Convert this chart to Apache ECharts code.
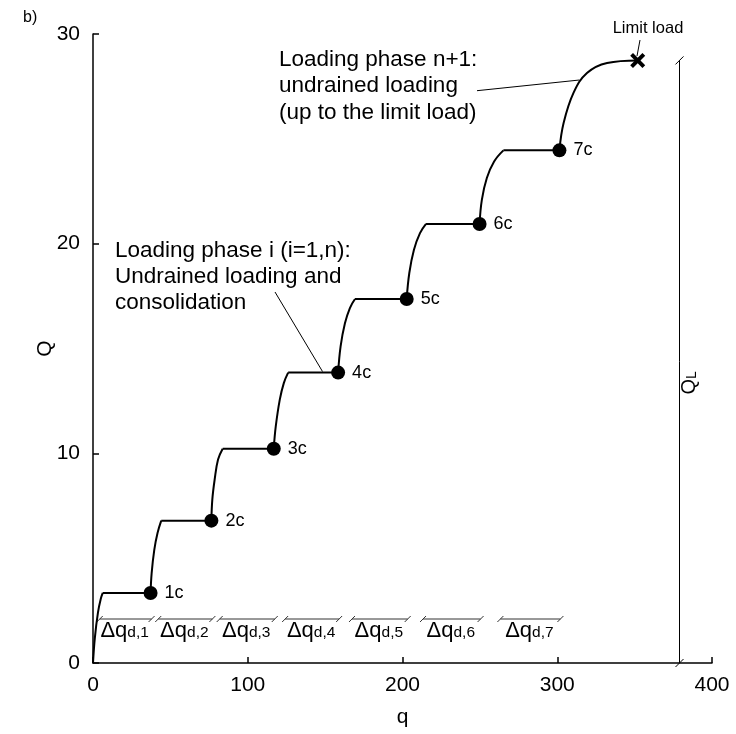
<!DOCTYPE html>
<html>
<head>
<meta charset="utf-8">
<style>
  html, body { margin: 0; padding: 0; background: #fff; }
  #chart { width: 736px; height: 734px; }
</style>
<script src="https://cdn.jsdelivr.net/npm/echarts@6/dist/echarts.min.js"></script>
</head>
<body>
<div id="chart"></div>
<script>
const FONT = 'Liberation Sans, Arial, sans-serif';

// consolidation end points (dots)
const dotLabels = ['1c', '2c', '3c', '4c', '5c', '6c', '7c'];
const dotQ = [37.2, 76.5, 116.8, 158.4, 202.7, 249.8, 301.4];
const dotLoad = [3.34, 6.79, 10.22, 13.85, 17.36, 20.94, 24.45];

// undrained loading curves [q, Q]
const undrained = [
  [[0, 0], [1.2, 1.2], [3.2, 2.4], [5.0, 3.05], [6.3, 3.34]],
  [[37.2, 3.34], [37.9, 4.29], [39.6, 5.4], [41.7, 6.2], [44.1, 6.79]],
  [[76.5, 6.79], [77.1, 7.79], [78.6, 8.74], [80.8, 9.7], [83.8, 10.22]],
  [[116.8, 10.22], [118.1, 11.28], [120.7, 12.56], [123.3, 13.35], [126.1, 13.85]],
  [[158.4, 13.85], [160.0, 15.1], [162.8, 16.2], [166.0, 16.93], [169.3, 17.36]],
  [[202.7, 17.36], [204.4, 18.6], [207.4, 19.71], [211.3, 20.5], [215.2, 20.94]],
  [[249.8, 20.94], [251.3, 22.1], [254.5, 23.13], [259.2, 23.92], [265.2, 24.45]],
  [[301.4, 24.45], [304.1, 25.75], [310.5, 27.19], [319.2, 28.14], [332.2, 28.62], [352.0, 28.74]]
];

const limitLoad = [352.0, 28.74];
const QL = 28.74;

const xTicks = [0, 100, 200, 300, 400];
const yTicks = [0, 10, 20, 30];

// consolidation plateaus: end of each undrained curve -> dot
const plateaus = dotQ.map((q, i) => {
  const last = undrained[i][undrained[i].length - 1];
  return [[last[0], dotLoad[i]], [q, dotLoad[i]]];
});
const dqSpans = plateaus.map((p, i) => [p[0][0], p[1][0], i + 1]);

const black = '#000';

const curveSeries = undrained.map((pts) => ({
  type: 'line',
  data: pts,
  smooth: 0.4,
  showSymbol: false,
  silent: true,
  lineStyle: { color: black, width: 2 },
  z: 3,
}));

const plateauSeries = plateaus.map((pts) => ({
  type: 'line',
  data: pts,
  showSymbol: false,
  silent: true,
  lineStyle: { color: black, width: 2 },
  z: 3,
}));

const dqSeries = {
  type: 'custom',
  data: dqSpans,
  encode: { x: [0, 1], y: 2 },
  silent: true,
  renderItem: (params, api) => {
    const a = api.coord([api.value(0), 0]);
    const b = api.coord([api.value(1), 0]);
    const y = a[1] - 44;
    const x0 = a[0] - 3;
    const x1 = b[0] + 1;
    const ln = { stroke: '#333', lineWidth: 1 };
    return {
      type: 'group',
      children: [
        { type: 'line', shape: { x1: x0, y1: y, x2: x1, y2: y }, style: ln },
        { type: 'line', shape: { x1: x0 - 3, y1: y + 3, x2: x0 + 3, y2: y - 3 }, style: ln },
        { type: 'line', shape: { x1: x1 - 3, y1: y + 3, x2: x1 + 3, y2: y - 3 }, style: ln },
        {
          type: 'text',
          x: (x0 + x1) / 2 - 1,
          y: y + 1,
          style: {
            text: '{a|Δq}{b|d,' + api.value(2) + '}',
            align: 'center',
            verticalAlign: 'top',
            rich: {
              a: { fontSize: 22, fontFamily: FONT, fill: black, verticalAlign: 'bottom' },
              b: { fontSize: 15.5, fontFamily: FONT, fill: black, verticalAlign: 'bottom', padding: [0, 0, 1, 0] },
            },
          },
        },
      ],
    };
  },
};

const qlSeries = {
  type: 'custom',
  data: [[379, QL]],
  encode: { x: 0, y: 1 },
  silent: true,
  renderItem: (params, api) => {
    const top = api.coord([api.value(0), api.value(1)]);
    const bot = api.coord([api.value(0), 0]);
    const mid = api.coord([api.value(0), api.value(1) * 0.465]);
    const ln = { stroke: black, lineWidth: 1 };
    return {
      type: 'group',
      children: [
        { type: 'line', shape: { x1: top[0], y1: top[1], x2: bot[0], y2: bot[1] }, style: ln },
        { type: 'line', shape: { x1: top[0] - 4, y1: top[1] + 4, x2: top[0] + 4, y2: top[1] - 4 }, style: ln },
        { type: 'line', shape: { x1: bot[0] - 4, y1: bot[1] + 4, x2: bot[0] + 4, y2: bot[1] - 4 }, style: ln },
        {
          type: 'text',
          x: top[0] + 10,
          y: mid[1],
          rotation: Math.PI / 2,
          style: {
            text: '{a|Q}{b|L}',
            align: 'center',
            verticalAlign: 'middle',
            rich: {
              a: { fontSize: 20, fontFamily: FONT, fill: black, verticalAlign: 'bottom' },
              b: { fontSize: 14, fontFamily: FONT, fill: black, verticalAlign: 'bottom' },
            },
          },
        },
      ],
    };
  },
};

const dotSeries = {
  type: 'scatter',
  data: dotQ.map((q, i) => ({ value: [q, dotLoad[i]], name: dotLabels[i] })),
  symbolSize: 14,
  silent: true,
  itemStyle: { color: black, opacity: 1 },
  label: {
    show: true,
    position: 'right',
    distance: 7,
    formatter: (p) => p.name,
    fontSize: 18,
    fontFamily: FONT,
    color: black,
  },
  z: 5,
};

const limitSeries = {
  type: 'scatter',
  data: [limitLoad],
  symbol: 'path://M0,2.6L2.6,0L7,4.4L11.4,0L14,2.6L9.6,7L14,11.4L11.4,14L7,9.6L2.6,14L0,11.4L4.4,7Z',
  symbolSize: 15,
  silent: true,
  itemStyle: { color: black, opacity: 1 },
  z: 5,
};

const axisCommon = {
  axisLine: { lineStyle: { color: black, width: 1.5 } },
  axisTick: { inside: true, length: 6, lineStyle: { color: black, width: 1.5 } },
  axisLabel: { color: black, fontSize: 21, fontFamily: FONT },
  splitLine: { show: false },
  nameLocation: 'middle',
  nameTextStyle: { color: black, fontSize: 21, fontFamily: FONT },
};

const textStyle = { fontSize: 22.5, fontFamily: FONT, fill: black, verticalAlign: 'top' };

const option = {
  animation: false,
  backgroundColor: '#fff',
  grid: { left: 93, right: 24, top: 34, bottom: 71 },
  xAxis: {
    type: 'value',
    min: xTicks[0],
    max: xTicks[xTicks.length - 1],
    interval: 100,
    name: 'q',
    nameGap: 44,
    ...axisCommon,
    axisLabel: { ...axisCommon.axisLabel, margin: 12 },
  },
  yAxis: {
    type: 'value',
    min: yTicks[0],
    max: yTicks[yTicks.length - 1],
    interval: 10,
    name: 'Q',
    nameGap: 37,
    nameMoveOverlap: false,
    ...axisCommon,
    axisLabel: { ...axisCommon.axisLabel, margin: 13 },
  },
  graphic: [
    { type: 'text', x: 23, y: 10, style: { text: 'b)', fontSize: 16, fontFamily: FONT, fill: black } },
    {
      type: 'text', x: 279, y: 46,
      style: { ...textStyle, text: 'Loading phase n+1:\nundrained loading\n(up to the limit load)', lineHeight: 26.7 },
    },
    { type: 'line', shape: { x1: 477, y1: 90.7, x2: 579.5, y2: 80 }, style: { stroke: black, lineWidth: 1 } },
    {
      type: 'text', x: 115, y: 238,
      style: { ...textStyle, text: 'Loading phase i (i=1,n):\nUndrained loading and\nconsolidation', lineHeight: 26 },
    },
    { type: 'line', shape: { x1: 275, y1: 292, x2: 322.5, y2: 371.5 }, style: { stroke: black, lineWidth: 1 } },
    {
      type: 'text', x: 648, y: 28,
      style: { text: 'Limit load', fontSize: 16.5, fontFamily: FONT, fill: black, align: 'center', verticalAlign: 'middle' },
    },
    { type: 'line', shape: { x1: 640, y1: 40, x2: 637, y2: 56 }, style: { stroke: black, lineWidth: 1 } },
  ],
  series: [...curveSeries, ...plateauSeries, dqSeries, qlSeries, dotSeries, limitSeries],
};

const chart = echarts.init(document.getElementById('chart'));
chart.setOption(option);
</script>
</body>
</html>
